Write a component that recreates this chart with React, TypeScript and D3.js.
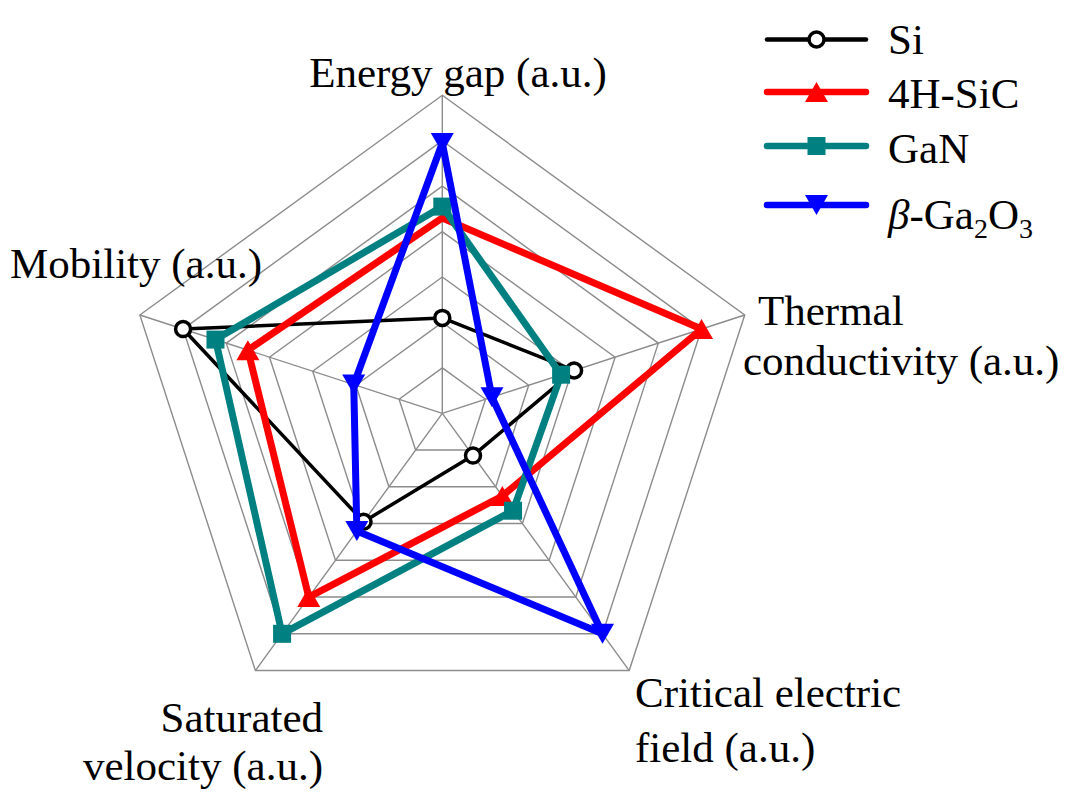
import React from "react";
import * as d3 from "d3";

const axes = [
  ["Energy gap (a.u.)"],
  ["Thermal", "conductivity (a.u.)"],
  ["Critical electric", "field (a.u.)"],
  ["Saturated", "velocity (a.u.)"],
  ["Mobility (a.u.)"],
];
const levels = [1, 2, 3, 4, 5, 6, 7];

const siValues = [2.1, 3.05, 1.15, 2.95, 6.0];
const sicValues = [4.3, 6.0, 2.25, 5.0, 4.5];
const ganValues = [4.55, 2.75, 2.65, 6.0, 5.25];
const ga2o3Values = [5.95, 1.15, 6.0, 3.2, 2.05];
const sicHiddenMarkers = [0];

const seriesNames = ["Si", "4H-SiC", "GaN", "β-Ga2O3"];

const W = 1080;
const H = 807;
const cx = 442.3;
const cy = 413.3;
const R = 318;

const rScale = d3.scaleLinear().domain([0, 7]).range([0, R]);
const angle = (i: number) => (i * 2 * Math.PI) / axes.length;
const pt = (i: number, v: number): [number, number] => [
  cx + rScale(v) * Math.sin(angle(i)),
  cy - rScale(v) * Math.cos(angle(i)),
];

const radial = d3
  .lineRadial<number>()
  .angle((_, i) => angle(i))
  .radius((d) => rScale(d))
  .curve(d3.curveLinearClosed);

const triUp = "M0,-10L11.5,10L-11.5,10Z";
const triDown = "M0,10L11.5,-10L-11.5,-10Z";

function Marker({ kind, color, x, y }: { kind: string; color: string; x: number; y: number }) {
  if (kind === "circle")
    return <circle cx={x} cy={y} r={7.5} fill="#fff" stroke={color} strokeWidth={3.5} />;
  if (kind === "up") return <path d={triUp} transform={`translate(${x},${y})`} fill={color} />;
  if (kind === "down") return <path d={triDown} transform={`translate(${x},${y})`} fill={color} />;
  return <rect x={x - 9} y={y - 9} width={18} height={18} fill={color} />;
}

const series = [
  { name: seriesNames[0], values: siValues, color: "#000000", width: 3.5, legendWidth: 4.5, marker: "circle", hidden: [] as number[] },
  { name: seriesNames[1], values: sicValues, color: "#ff0000", width: 7, legendWidth: 6.5, marker: "up", hidden: sicHiddenMarkers },
  { name: seriesNames[2], values: ganValues, color: "#008080", width: 7, legendWidth: 6.5, marker: "square", hidden: [] as number[] },
  { name: seriesNames[3], values: ga2o3Values, color: "#0000ff", width: 7, legendWidth: 6.5, marker: "down", hidden: [] as number[] },
];

const legendY = [39.5, 92, 146, 205];
const legendBase = [53.5, 108, 162.5, 229];

const labelPos = [
  { x: 458, y: [86.7], anchor: "middle" },
  { x: 758, y: [325, 375], anchor: "start", x2: 743 },
  { x: 635, y: [707, 762], anchor: "start" },
  { x: 323, y: [732, 780], anchor: "end" },
  { x: 10, y: [278], anchor: "start" },
];

export default function App() {
  const font = "'Liberation Serif', 'Times New Roman', serif";
  return (
    <svg
      width={W}
      height={H}
      style={{ position: "absolute", left: 0, top: 0, background: "#fff" }}
      fontFamily={font}
    >
      <rect width={W} height={H} fill="#fff" />
      {/* grid */}
      <g fill="none" stroke="#8c8c8c" strokeWidth={1.4}>
        {levels.map((l) => (
          <path key={l} d={radial(axes.map(() => l)) || ""} transform={`translate(${cx},${cy})`} />
        ))}
        {axes.map((_, i) => {
          const [x, y] = pt(i, 7);
          return <line key={i} x1={cx} y1={cy} x2={x} y2={y} />;
        })}
      </g>
      {/* series */}
      {series.map((s) => (
        <g key={s.name}>
          <path
            d={radial(s.values) || ""}
            transform={`translate(${cx},${cy})`}
            fill="none"
            stroke={s.color}
            strokeWidth={s.width}
            strokeLinejoin="round"
          />
          {s.values.map((v, i) => {
            if (s.hidden.includes(i)) return null;
            const [x, y] = pt(i, v);
            return <Marker key={i} kind={s.marker} color={s.color} x={x} y={y} />;
          })}
        </g>
      ))}
      {/* axis labels */}
      <g fontSize={43} fill="#000">
        {axes.map((lines, i) => {
          const p = labelPos[i];
          return lines.map((t, j) => (
            <text
              key={`${i}-${j}`}
              x={j === 1 && p.x2 !== undefined ? p.x2 : p.x}
              y={p.y[j]}
              textAnchor={p.anchor as any}
            >
              {t}
            </text>
          ));
        })}
      </g>
      {/* legend */}
      <g>
        {series.map((s, i) => (
          <g key={s.name}>
            <line
              x1={767}
              x2={866}
              y1={legendY[i]}
              y2={legendY[i]}
              stroke={s.color}
              strokeWidth={s.legendWidth}
              strokeLinecap="round"
            />
            <Marker kind={s.marker} color={s.color} x={816.5} y={legendY[i]} />
            <text x={888} y={legendBase[i]} fontSize={43}>
              {i === 3 ? (
                <>
                  <tspan fontStyle="italic">β</tspan>
                  <tspan>-Ga</tspan>
                  <tspan fontSize={28} dy={9}>2</tspan>
                  <tspan dy={-9}>O</tspan>
                  <tspan fontSize={28} dy={9}>3</tspan>
                </>
              ) : (
                s.name
              )}
            </text>
          </g>
        ))}
      </g>
    </svg>
  );
}
